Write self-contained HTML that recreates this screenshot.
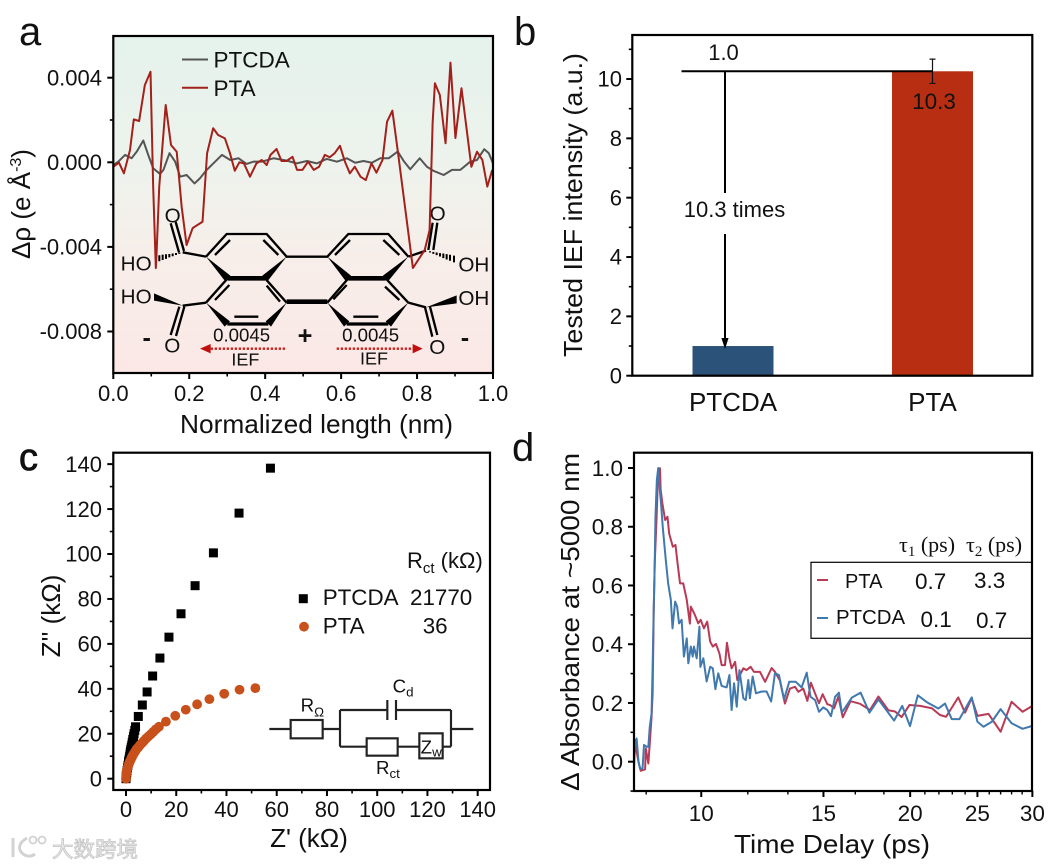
<!DOCTYPE html>
<html lang="en">
<head>
<meta charset="utf-8">
<title>IEF composite figure</title>
<style>
html,body{margin:0;padding:0;background:#fff;width:1063px;height:867px;overflow:hidden}
svg{display:block}
text{font-family:"Liberation Sans","Noto Sans CJK SC",sans-serif;fill:#111}
.serif{font-family:"Liberation Serif",serif}
</style>
</head>
<body>
<svg id="figure" xmlns="http://www.w3.org/2000/svg" width="1063" height="867" viewBox="0 0 1063 867">
<defs>
<linearGradient id="bgA" x1="0" y1="0" x2="0" y2="1">
<stop offset="0" stop-color="#e5f2ec"/>
<stop offset="0.38" stop-color="#edf3ec"/>
<stop offset="0.65" stop-color="#f7eeea"/>
<stop offset="1" stop-color="#fbe8e6"/>
</linearGradient>
</defs>

<!-- PANEL A -->
<g id="panel-a">
<text x="19" y="45" font-size="40">a</text>
<rect x="113.3" y="36" width="379.7" height="337" fill="url(#bgA)"/>
<g transform="translate(0,20) scale(0.33333)">
<g fill="none" stroke="#000" stroke-width="7">
<path d="M618,710L680,642L800,642L860,710L982,710L1045,642L1165,642L1225,710M683,775L618,848M795,775L860,848M1045,775L982,848M1157,775L1225,848"/>
<path d="M645,705L690,660M790,660L835,705M1005,705L1050,660M1150,660L1198,705M688,795L645,840M800,797L840,845M703,890L775,890M1040,795L1000,838M1155,800L1198,840M1060,890L1135,890"/>
<path d="M618,710L548,697M618,848L548,857M1225,710L1278,692M1225,848L1278,862M537,697L512,610M552,693L527,606M538,860L512,945M553,860L528,948M1285,690L1298,608M1300,690L1312,608M1275,862L1297,950M1290,860L1312,945"/>
<path stroke-width="6" d="M538,697.5V701.5M528,699V705M518,700.6V708.6M508,702V712M498,702.6V716.6M488,704V720M478,705.7V723.7M468,707V727M1290,693.6V697.6M1300,695.6V701.6M1310,697.5V705.5M1320,699.5V709.5M1330,700.5V714.5M1340,702.5V718.5M1350,704.4V722.4M1362,707V727"/>
<path stroke-width="14" d="M683,775H795M1045,775H1157M860,845H982"/>
<path stroke-width="10" d="M682,912H805M1040,912H1165"/>
</g>
<path fill="#000" d="M618,710L691,767L675,783ZM860,710L803,783L787,767ZM618,848L690,904L674,920ZM860,848L813,920L797,904ZM982,710L1053,767L1037,783ZM1225,710L1165,783L1149,767ZM982,848L1048,904L1032,920ZM1225,848L1173,920L1157,904ZM548,857L462,820L462,842ZM1278,862L1370,826L1370,850Z"/>
<text x="518" y="607" font-size="62" text-anchor="middle">O</text>
<text x="517" y="997" font-size="62" text-anchor="middle">O</text>
<text x="1313" y="602" font-size="62" text-anchor="middle">O</text>
<text x="1312" y="1002" font-size="62" text-anchor="middle">O</text>
<text x="362" y="752" font-size="62">HO</text>
<text x="362" y="850" font-size="62">HO</text>
<text x="1375" y="755" font-size="62">OH</text>
<text x="1375" y="855" font-size="62">OH</text>
<text x="440" y="978" font-size="76" font-weight="bold" text-anchor="middle">-</text>
<text x="915" y="972" font-size="76" font-weight="bold" text-anchor="middle">+</text>
<text x="1395" y="978" font-size="76" font-weight="bold" text-anchor="middle">-</text>
<text x="725" y="965" font-size="56" text-anchor="middle">0.0045</text>
<text x="1112" y="965" font-size="56" text-anchor="middle">0.0045</text>
<text x="736" y="1036" font-size="54" text-anchor="middle">IEF</text>
<text x="1122" y="1034" font-size="54" text-anchor="middle">IEF</text>
<g>
<line x1="855" y1="986" x2="630" y2="986" stroke="#c8201a" stroke-width="7" stroke-dasharray="7 5"/>
<path d="M600,986L632,972V1000Z" fill="#c00f0f"/>
</g>
<g>
<line x1="1010" y1="986" x2="1240" y2="986" stroke="#c8201a" stroke-width="7" stroke-dasharray="7 5"/>
<path d="M1268,986L1238,972V1000Z" fill="#c00f0f"/>
</g>
</g>
<g id="a-series"></g>
<g>
<line x1="182" y1="59.5" x2="208" y2="59.5" stroke="#555" stroke-width="2"/>
<text x="213.5" y="67.7" font-size="22.5">PTCDA</text>
<line x1="182" y1="87.7" x2="208" y2="87.7" stroke="#a3201b" stroke-width="2"/>
<text x="213.5" y="96" font-size="22.5">PTA</text>
</g>
<g id="a-axes"></g>
<rect x="113.3" y="36" width="379.7" height="337" fill="none" stroke="#000" stroke-width="2.2"/>
<text x="316.5" y="433" font-size="26" text-anchor="middle" textLength="273" lengthAdjust="spacingAndGlyphs">Normalized length (nm)</text>
<text transform="translate(30,204) rotate(-90)" font-size="26" text-anchor="middle">Δρ (e Å<tspan dy="-9" font-size="16">-3</tspan><tspan dy="9">)</tspan></text>
</g>

<!-- PANEL B -->
<g id="panel-b">
<text x="514" y="45" font-size="40">b</text>
<g id="b-bars"></g>
<g id="b-axes"></g>
<rect x="632.3" y="35" width="400" height="340.7" fill="none" stroke="#000" stroke-width="2.2"/>
<text x="723.5" y="60" font-size="22" text-anchor="middle">1.0</text>
<text x="934" y="109" font-size="22.5" text-anchor="middle">10.3</text>
<text x="734.5" y="217" font-size="22" text-anchor="middle">10.3 times</text>
<text transform="translate(582,205) rotate(-90)" font-size="26" text-anchor="middle" textLength="304" lengthAdjust="spacingAndGlyphs">Tested IEF intensity (a.u.)</text>
</g>

<!-- PANEL C -->
<g id="panel-c">
<text x="19" y="470" font-size="38" stroke="#111" stroke-width="0.8">c</text>
<g id="c-series"></g>
<g id="c-axes"></g>
<rect x="113.3" y="452.7" width="376.7" height="337.3" fill="none" stroke="#000" stroke-width="2.2"/>
<text x="407" y="568" font-size="22">R<tspan dy="5" font-size="15">ct</tspan><tspan dy="-5"> (kΩ)</tspan></text>
<rect x="298.8" y="594.2" width="9" height="9" fill="#000"/>
<circle cx="304" cy="626.7" r="4.9" fill="#c8501a"/>
<text x="322.7" y="605" font-size="22.4">PTCDA</text>
<text x="410" y="605" font-size="22.4">21770</text>
<text x="322.7" y="633.5" font-size="22.4">PTA</text>
<text x="422.7" y="633.5" font-size="22.4">36</text>
<g transform="translate(260,670) scale(0.33333)">
<path fill="none" stroke="#222" stroke-width="6.5" d="M28,177H92M188,177H240M240,120V230M240,120H382M408,120H573M573,120V230M573,177H640M240,230H320M413,230H478M548,230H573"/>
<path fill="none" stroke="#222" stroke-width="6.5" d="M382,90V150M408,90V150"/>
<rect x="92" y="150" width="96" height="55" fill="none" stroke="#222" stroke-width="6.5"/>
<rect x="320" y="205" width="93" height="52" fill="none" stroke="#222" stroke-width="6.5"/>
<rect x="478" y="190" width="70" height="75" fill="none" stroke="#222" stroke-width="6.5"/>
<text x="122" y="125" font-size="56">R<tspan dy="14" font-size="40">Ω</tspan></text>
<text x="398" y="68" font-size="56">C<tspan dy="12" font-size="40">d</tspan></text>
<text x="348" y="312" font-size="56">R<tspan dy="12" font-size="40">ct</tspan></text>
<text x="482" y="250" font-size="56">Z<tspan dy="10" font-size="40">w</tspan></text>
</g>
<text x="309" y="847" font-size="26" text-anchor="middle">Z' (kΩ)</text>
<text transform="translate(60,616) rotate(-90)" font-size="26" text-anchor="middle">Z'' (kΩ)</text>
</g>

<!-- PANEL D -->
<g id="panel-d">
<text x="512" y="461" font-size="40">d</text>
<g id="d-series"></g>
<g id="d-axes"></g>
<rect x="634" y="452.7" width="398" height="338.3" fill="none" stroke="#000" stroke-width="2.2"/>
<text class="serif" x="899" y="552" font-size="22">τ<tspan dy="4" font-size="15">1</tspan><tspan dy="-4"> (ps)</tspan></text>
<text class="serif" x="966" y="552" font-size="22">τ<tspan dy="4" font-size="15">2</tspan><tspan dy="-4"> (ps)</tspan></text>
<rect x="811" y="562.3" width="221" height="76" fill="none" stroke="#000" stroke-width="1.2"/>
<line x1="817" y1="580" x2="828" y2="580" stroke="#b93a55" stroke-width="2"/>
<text x="845" y="588" font-size="20">PTA</text>
<text x="915" y="589" font-size="22.5">0.7</text>
<text x="974" y="588" font-size="22.5">3.3</text>
<line x1="817" y1="618" x2="828" y2="618" stroke="#4079ad" stroke-width="2"/>
<text x="836" y="624" font-size="20.4">PTCDA</text>
<text x="920.5" y="627" font-size="22.5">0.1</text>
<text x="976" y="628" font-size="22.5">0.7</text>
<text x="832" y="853" font-size="26" text-anchor="middle" textLength="196" lengthAdjust="spacingAndGlyphs">Time Delay (ps)</text>
<text transform="translate(579,622) rotate(-90)" font-size="26" text-anchor="middle" textLength="338" lengthAdjust="spacingAndGlyphs">Δ Absorbance at ~5000 nm</text>
</g>

<!-- WATERMARK -->
<g>
<path fill="none" stroke="#d2d2d2" stroke-width="3" d="M13,838V857M27,838C20,842 17,848 22,853C26,857 31,857 35,854"/>
<circle cx="33" cy="840" r="3.5" fill="none" stroke="#d2d2d2" stroke-width="1.8"/>
<circle cx="42" cy="840" r="3.5" fill="none" stroke="#d2d2d2" stroke-width="1.8"/>
<text x="52" y="857" font-size="21.5" style="fill:#ececec;stroke:#c4c4c4;stroke-width:0.8">大数跨境</text>
</g>
</svg>

<script>
// ---------- Panel A data ----------
const aPtaX = [0,.015,.028,.044,.054,.068,.083,.098,.105,.112,.114,.121,.138,.152,.167,.180,.193,.209,.235,.247,.263,.276,.294,.307,.320,.332,.344,.360,.377,.391,.404,.414,.430,.443,.456,.472,.484,.498,.513,.528,.542,.557,.570,.583,.597,.610,.623,.636,.651,.665,.680,.693,.709,.721,.735,.750,.789,.820,.828,.833,.841,.847,.860,.875,.888,.901,.917,.943,.958,.972,.985,.998];
const aPtaY = [-.00021,-.00002,-.00052,.00058,.00203,.00195,.00365,.00428,-.00115,-.00500,-.00429,-.00115,.00271,.00082,.00050,-.00210,-.00391,-.00311,-.00281,.00043,.00161,.00129,.00113,.00044,-.00040,0,-.00005,-.00068,-.00005,.00011,-.00013,.00035,.00063,.00006,.00006,.00026,-.00036,-.00036,.00003,-.00036,-.00021,.00035,.00024,.00043,.00078,.00003,-.00052,-.00021,-.00068,-.00084,-.00005,-.00049,.00011,.00192,.00244,.00043,-.00500,-.00415,-.00358,-.00320,.00186,.00374,.00318,.00090,.00471,.00115,.00350,-.00021,.00050,.00011,-.00115,-.00036];
const aPtcdaX = [0,.013,.031,.048,.062,.079,.092,.105,.123,.132,.148,.163,.176,.193,.214,.228,.246,.268,.286,.308,.330,.351,.369,.391,.422,.457,.483,.510,.536,.562,.589,.615,.637,.659,.681,.703,.725,.749,.766,.782,.807,.826,.844,.870,.892,.914,.940,.958,.977,.989,1];
const aPtcdaY = [-.00013,.00003,.00035,.00019,.00051,.00103,.00035,-.00028,-.00055,-.00036,.00043,.00003,-.00068,-.00060,-.00100,-.00076,-.00036,.00003,.00035,.00011,.00019,-.00008,.00003,.00003,.00019,.00008,-.00005,.00006,-.00005,.00016,.00003,.00019,-.00002,.00006,-.00002,.00019,.00019,.00051,.00003,-.00033,.00019,-.00021,-.00041,-.00060,-.00036,-.00036,.00003,.00011,.00062,.00043,-.00005];
const aYTicks = [-0.008,-0.004,0,0.004];
const aYTickLabels = ['-0.008','-0.004','0.000','0.004'];
const aYMinor = [-0.006,-0.002,0.002];
const aXTicks = [0,0.2,0.4,0.6,0.8,1];
const aXTickLabels = ['0.0','0.2','0.4','0.6','0.8','1.0'];
const aXMinor = [0.1,0.3,0.5,0.7,0.9];

// ---------- Panel B data ----------
const bCategories = ['PTCDA','PTA'];
const bValues = [1.0,10.26];
const bErrors = [0,0.41];
const bYTicks = [0,2,4,6,8,10];
const bYTickLabels = ['0','2','4','6','8','10'];
const bYMinor = [1,3,5,7,9,11];

// ---------- Panel C data ----------
const cPtcdaX = [57.5,45.0,34.8,27.5,21.9,17.1,13.5,10.6,8.4,6.5,4.9,3.8,3.5,3.2,3.0,2.7,2.5,2.3,2.1,1.9,1.75,1.6,1.45,1.3,1.15,1.0,0.8,0.6,0.4,0.3,0.2,0.1,0,0];
const cPtcdaY = [138.2,118.2,100.5,85.9,73.4,63.0,53.7,45.7,38.6,32.8,27.7,23.1,21.5,20,18.8,17.5,16.2,15,14,13,12,11,10,9,8.2,7.5,6,4.8,3.6,2.6,1.8,1,0.4,0];
const cPtaX = [51.5,45.2,39.1,33.2,28.3,23.8,19.6,15.9,13.1,11.9,10.9,9.9,8.9,8.0,7.2,6.4,5.6,4.9,4.2,3.7,3.2,2.7,2.3,1.9,1.5,1.2,0.9,0.6,0.4,0.2,0.1,0];
const cPtaY = [40.3,39.6,37.8,35.4,33.1,30.7,28.0,25.4,23.1,22.0,20.9,19.8,18.8,17.9,16.9,15.9,15.0,14.0,13.1,12.2,11.3,10.4,9.5,8.5,7.6,6.7,5.8,4.8,3.9,2.9,1.9,0];
const cTicks = [0,20,40,60,80,100,120,140];
const cTickLabels = ['0','20','40','60','80','100','120','140'];
const cMinor = [10,30,50,70,90,110,130];

// ---------- Panel D data ----------
const dPtaT = [8.00,8.03,8.07,8.12,8.18,8.30,8.32,8.39,8.43,8.48,8.51,8.54,8.57,8.62,8.66,8.72,8.74,8.79,8.87,8.94,8.99,9.10,9.18,9.25,9.32,9.42,9.53,9.63,9.66,9.79,9.90,9.98,10.09,10.20,10.30,10.39,10.50,10.62,10.70,10.82,10.89,10.98,11.06,11.19,11.27,11.50,11.62,11.78,11.91,12.15,12.36,12.63,12.77,12.98,13.20,13.42,13.65,13.80,14.03,14.22,14.39,14.59,14.78,14.96,15.19,15.33,15.54,15.76,15.99,16.41,16.94,17.50,18.0,18.61,19.02,19.44,19.95,20.67,21.49,22.08,22.53,23.46,23.99,24.53,25.0,25.93,27.0,28.0,29.04,30.0];
const dPtaV = [-.023,.074,.034,0,-.031,-.026,.045,-.006,.063,.153,.233,.505,.676,.823,.959,.999,.925,.880,.823,.834,.777,.732,.738,.670,.607,.607,.551,.470,.528,.500,.471,.483,.454,.477,.409,.392,.401,.369,.329,.329,.405,.352,.318,.340,.278,.318,.312,.323,.306,.306,.272,.319,.306,.277,.198,.249,.255,.238,.249,.207,.269,.232,.199,.230,.196,.193,.182,.222,.151,.206,.197,.176,.222,.175,.171,.152,.193,.190,.182,.159,.153,.219,.167,.216,.156,.163,.102,.204,.170,.190];
const dPtcdaT = [8.00,8.07,8.12,8.16,8.23,8.27,8.34,8.39,8.43,8.48,8.51,8.54,8.57,8.59,8.63,8.67,8.71,8.75,8.80,8.89,8.96,9.04,9.09,9.17,9.23,9.29,9.37,9.44,9.53,9.58,9.66,9.72,9.76,9.85,9.94,9.97,10.07,10.18,10.30,10.39,10.48,10.58,10.70,10.88,10.98,11.06,11.15,11.25,11.35,11.50,11.59,11.69,11.75,11.86,11.99,12.22,12.42,12.61,12.77,12.94,13.16,13.39,13.68,13.95,14.19,14.37,14.59,14.78,14.99,15.19,15.38,15.59,15.79,15.94,16.48,16.97,17.47,18.0,18.96,19.48,19.99,20.51,21.13,21.96,22.45,22.96,23.55,24.53,25.0,25.51,26.22,27.0,28.0,29.04,30.0];
const dPtcdaV = [.034,.079,0,-.023,-.023,.057,.051,.051,.119,.164,.323,.516,.676,.834,.959,1.0,.936,.880,.800,.687,.607,.551,.454,.545,.528,.471,.483,.358,.420,.335,.392,.358,.392,.352,.460,.323,.352,.273,.323,.318,.247,.301,.258,.253,.295,.176,.267,.187,.312,.216,.210,.278,.216,.290,.233,.239,.239,.205,.301,.295,.212,.272,.272,.253,.303,.221,.210,.170,.185,.176,.155,.221,.235,.167,.218,.235,.167,.212,.140,.190,.121,.226,.203,.181,.198,.145,.145,.219,.136,.119,.136,.179,.131,.112,.122];
const dYTicks = [0,0.2,0.4,0.6,0.8,1];
const dYTickLabels = ['0.0','0.2','0.4','0.6','0.8','1.0'];
const dYMinor = [-0.1,0.1,0.3,0.5,0.7,0.9];
const dXTicks = [10,15,20,25,30];
const dXTickLabels = ['10','15','20','25','30'];
const dXMinor = [8.33,11.67,13.33,16.67,18.33,21,22,23,24,26,27,28,29];

// ---------- Scales ----------
const xA = v => 113.3 + 379.7 * v;
const yA = v => 162.3 - 21150 * v;
const yB = v => 375.7 - 29.67 * v;
const xB = i => 733 + 199.5 * i;
const xC = v => 126 + 2.512 * v;
const yC = v => 778.7 - 2.247 * v;
const xD = t => 634 + 694 * Math.log10(t / 8);
const yD = v => 761.7 - 293.7 * v;

const NS = 'http://www.w3.org/2000/svg';
function mk(parent, tag, attrs) {
  const el = document.createElementNS(NS, tag);
  for (const k in attrs) el.setAttribute(k, attrs[k]);
  parent.appendChild(el);
  return el;
}
function ptsOf(xs, ys, fx, fy) {
  return xs.map((x, i) => fx(x).toFixed(2) + ',' + fy(ys[i]).toFixed(2)).join(' ');
}
function yTicks(g, frameX, vals, fy, len, width) {
  vals.forEach(v => {
    const t = mk(g, 'line', {x1: frameX - len, x2: frameX, y1: fy(v), y2: fy(v), stroke: '#000', 'stroke-width': width});
    
    
  });
}
function xTicks(g, frameY, vals, fx, len, width) {
  vals.forEach(v => {
    const t = mk(g, 'line', {x1: fx(v), x2: fx(v), y1: frameY, y2: frameY + len, stroke: '#000', 'stroke-width': width});
    
    
  });
}
function yLabels(g, x, vals, labels, fy, size) {
  vals.forEach((v, i) => {
    const t = mk(g, 'text', {x: x, y: fy(v) + size * 0.35, 'font-size': size, 'text-anchor': 'end'});
    
    
    t.textContent = labels[i];
  });
}
function xLabels(g, y, vals, labels, fx, size) {
  vals.forEach((v, i) => {
    const t = mk(g, 'text', {x: fx(v), y: y, 'font-size': size, 'text-anchor': 'middle'});
    
    
    t.textContent = labels[i];
  });
}

// ---------- Panel A ----------
const aS = document.getElementById('a-series');
const lineAGray = mk(aS, 'polyline', {points: ptsOf(aPtcdaX, aPtcdaY, xA, yA), fill: 'none', stroke: '#555', 'stroke-width': 2, 'stroke-linejoin': 'round'});


const lineARed = mk(aS, 'polyline', {points: ptsOf(aPtaX, aPtaY, xA, yA), fill: 'none', stroke: '#a3201b', 'stroke-width': 2, 'stroke-linejoin': 'round'});


const aG = document.getElementById('a-axes');
yTicks(aG, 113.3, aYTicks, yA, 6, 2);
yTicks(aG, 113.3, aYMinor, yA, 3.5, 1.6);
xTicks(aG, 373, aXTicks, xA, 6, 2);
xTicks(aG, 373, aXMinor, xA, 3.5, 1.6);
yLabels(aG, 102, aYTicks, aYTickLabels, yA, 22);
xLabels(aG, 401, aXTicks, aXTickLabels, xA, 22);

// ---------- Panel B ----------
const bS = document.getElementById('b-bars');
bCategories.forEach((c, i) => {
  const bar = mk(bS, 'rect', {x: xB(i) - 40.5, y: yB(bValues[i]), width: 81, height: yB(0) - yB(bValues[i]), fill: i === 0 ? '#2b5278' : '#b82e12'});
  
  
});
const errX = xB(1);
const errTop = yB(bValues[1] + bErrors[1]);
const errBottom = yB(bValues[1] - bErrors[1]);
const errBar = mk(bS, 'path', {d: 'M' + (errX - 3) + ',' + errTop + 'H' + (errX + 3) + 'M' + errX + ',' + errTop + 'V' + errBottom + 'M' + (errX - 3) + ',' + errBottom + 'H' + (errX + 3), fill: 'none', stroke: '#111', 'stroke-width': 1.2});


const refLine = mk(bS, 'line', {x1: 681.5, x2: errX, y1: yB(bValues[1]), y2: yB(bValues[1]), stroke: '#000', 'stroke-width': 2});


const arrowX = 725;
const arrowTop = mk(bS, 'line', {x1: arrowX, x2: arrowX, y1: yB(bValues[1]), y2: 193, stroke: '#000', 'stroke-width': 2});


const arrowBottom = mk(bS, 'line', {x1: arrowX, x2: arrowX, y1: 234, y2: yB(bValues[0]) - 6, stroke: '#000', 'stroke-width': 2});


const arrowHead = mk(bS, 'path', {d: 'M' + (arrowX - 3.6) + ',' + (yB(bValues[0]) - 8) + 'H' + (arrowX + 3.6) + 'L' + arrowX + ',' + (yB(bValues[0]) + 3) + 'Z', fill: '#000'});


const bG = document.getElementById('b-axes');
yTicks(bG, 632.3, bYTicks, yB, 6, 2);
yTicks(bG, 632.3, bYMinor, yB, 3.5, 1.6);
yLabels(bG, 622, bYTicks, bYTickLabels, yB, 22);
xLabels(bG, 411, [0, 1], bCategories, xB, 26);

// ---------- Panel C ----------
const cS = document.getElementById('c-series');
cPtcdaX.forEach((x, i) => {
  const sq = mk(cS, 'rect', {x: xC(x) - 4.5, y: yC(cPtcdaY[i]) - 4.5, width: 9, height: 9, fill: '#000'});
  
  
});
cPtaX.forEach((x, i) => {
  const dot = mk(cS, 'circle', {cx: xC(x), cy: yC(cPtaY[i]), r: 4.9, fill: '#c8501a'});
  
  
});
const cG = document.getElementById('c-axes');
yTicks(cG, 113.3, cTicks, yC, 6, 2);
yTicks(cG, 113.3, cMinor, yC, 3.5, 1.6);
xTicks(cG, 790, cTicks, xC, 6, 2);
xTicks(cG, 790, cMinor, xC, 3.5, 1.6);
yLabels(cG, 102, cTicks, cTickLabels, yC, 22);
xLabels(cG, 817, cTicks, cTickLabels, xC, 22);

// ---------- Panel D ----------
const dS = document.getElementById('d-series');
const lineDRed = mk(dS, 'polyline', {points: ptsOf(dPtaT, dPtaV, xD, yD), fill: 'none', stroke: '#b93a55', 'stroke-width': 2, 'stroke-linejoin': 'round'});


const lineDBlue = mk(dS, 'polyline', {points: ptsOf(dPtcdaT, dPtcdaV, xD, yD), fill: 'none', stroke: '#4079ad', 'stroke-width': 2, 'stroke-linejoin': 'round'});


const dG = document.getElementById('d-axes');
yTicks(dG, 634, dYTicks, yD, 6, 2);
yTicks(dG, 634, dYMinor, yD, 3.5, 1.6);
xTicks(dG, 791, dXTicks, xD, 6, 2);
xTicks(dG, 791, dXMinor, xD, 3.5, 1.4);
yLabels(dG, 623, dYTicks, dYTickLabels, yD, 22.5);
xLabels(dG, 821, dXTicks, dXTickLabels, xD, 22.5);
</script>
</body>
</html>
